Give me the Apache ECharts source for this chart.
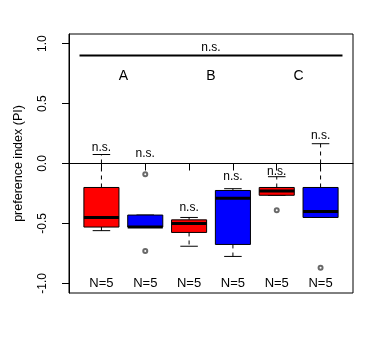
<!DOCTYPE html>
<html><head><meta charset="utf-8">
<script src="https://cdn.jsdelivr.net/npm/echarts@6/dist/echarts.min.js"></script>
<style>html,body{margin:0;padding:0;background:#fff}#c{width:379px;height:346px}</style>
</head><body><div id="c"></div>
<script>
// ---- data ----
const positions   = [1, 2, 3, 4, 5, 6];
const boxColors   = ['#FF0000', '#0000FF', '#FF0000', '#0000FF', '#FF0000', '#0000FF'];
const whiskerLow  = [-0.56, -0.53, -0.69, -0.775, -0.265, -0.45];
const q1          = [-0.53, -0.53, -0.575, -0.675, -0.265, -0.45];
const median      = [-0.45, -0.53, -0.50, -0.29, -0.23, -0.40];
const q3          = [-0.20, -0.43, -0.47, -0.225, -0.20, -0.20];
const whiskerHigh = [0.075, -0.43, -0.45, -0.21, -0.11, 0.165];
const outliers    = [[2, -0.09], [2, -0.73], [5, -0.39], [6, -0.87]];
const nsLabels    = ['n.s.', 'n.s.', 'n.s.', 'n.s.', 'n.s.', 'n.s.'];
const nsLabelY    = [0.13, 0.08, -0.365, -0.11, -0.065, 0.23];
const nLabels     = ['N=5', 'N=5', 'N=5', 'N=5', 'N=5', 'N=5'];
const nLabelY     = -1.0;
const groupLabels = ['A', 'B', 'C'];
const groupPos    = [1.5, 3.5, 5.5];
const groupLabelY = 0.73;
const topLine     = [0.5, 6.5, 0.9];   // x1, x2, y
const topLabel    = 'n.s.';
const topLabelY   = 0.97;
const yTicks      = [-1, -0.5, 0, 0.5, 1];
const yName       = 'preference index (PI)';

const FONT = "'Liberation Sans', Arial, sans-serif";

const boxData = positions.map((p, i) => [p, whiskerLow[i], q1[i], median[i], q3[i], whiskerHigh[i]]);

function textSeries(points, texts, size) {
  return {
    type: 'custom',
    data: points,
    silent: true,
    z: 10,
    renderItem: function (params, api) {
      const pt = api.coord([api.value(0), api.value(1)]);
      return {
        type: 'text',
        x: pt[0], y: pt[1],
        style: {
          text: texts[params.dataIndex],
          fontSize: size,
          fontFamily: FONT,
          fill: '#000',
          align: 'center',
          verticalAlign: 'middle'
        }
      };
    }
  };
}

function segSeries(segs, width) {
  return {
    type: 'custom',
    data: segs,
    silent: true,
    z: 5,
    renderItem: function (params, api) {
      const a = api.coord([api.value(0), api.value(1)]);
      const b = api.coord([api.value(2), api.value(3)]);
      return {
        type: 'line',
        shape: { x1: a[0], y1: a[1], x2: b[0], y2: b[1] },
        style: { stroke: '#000', lineWidth: width }
      };
    }
  };
}

const chart = echarts.init(document.getElementById('c'), null, { renderer: 'canvas' });
chart.setOption({
  animation: false,
  backgroundColor: '#fff',
  grid: { left: 69, right: 26, top: 34, bottom: 53, show: true, borderColor: '#000', borderWidth: 1, backgroundColor: 'transparent' },
  xAxis: {
    type: 'value', min: 0.26, max: 6.74,
    axisLine: { show: true, lineStyle: { color: '#000' } },
    axisTick: { show: true, length: 7, customValues: positions, lineStyle: { color: '#000' } },
    axisLabel: { show: false },
    splitLine: { show: false }
  },
  yAxis: {
    type: 'value', min: -1.08, max: 1.08,
    name: yName, nameLocation: 'middle', nameRotate: 90, nameGap: 44,
    nameTextStyle: { fontSize: 12.5, fontFamily: FONT, color: '#000' },
    axisLine: { show: true, lineStyle: { color: '#000' } },
    axisTick: { show: true, length: 7, customValues: yTicks, lineStyle: { color: '#000' } },
    axisLabel: {
      customValues: yTicks, rotate: 90, margin: 20,
      fontSize: 12, fontFamily: FONT, color: '#000',
      formatter: v => v.toFixed(1)
    },
    splitLine: { show: false }
  },
  series: [
    segSeries([[0.26, 0, 6.74, 0]], 1),
    {
      type: 'custom',
      data: boxData,
      z: 6,
      renderItem: function (params, api) {
        const x = api.value(0);
        const half = api.size([0.8, 0])[0] / 2;
        const cap = half / 2;
        const c = api.coord([x, 0])[0];
        const yy = [1, 2, 3, 4, 5].map(k => api.coord([x, api.value(k)])[1]);
        const [wl, lo, md, hi, wh] = yy;
        const color = boxColors[params.dataIndex];
        return {
          type: 'group',
          children: [
            { type: 'line', shape: { x1: c, y1: hi, x2: c, y2: wh }, style: { stroke: '#000', lineWidth: 1, lineDash: [4, 4] } },
            { type: 'line', shape: { x1: c, y1: lo, x2: c, y2: wl }, style: { stroke: '#000', lineWidth: 1, lineDash: [4, 4] } },
            { type: 'line', shape: { x1: c - cap, y1: wh, x2: c + cap, y2: wh }, style: { stroke: '#000', lineWidth: 1 } },
            { type: 'line', shape: { x1: c - cap, y1: wl, x2: c + cap, y2: wl }, style: { stroke: '#000', lineWidth: 1 } },
            { type: 'rect', shape: { x: c - half, y: hi, width: 2 * half, height: lo - hi }, style: { fill: color, stroke: '#000', lineWidth: 1 } },
            { type: 'line', shape: { x1: c - half, y1: md, x2: c + half, y2: md }, style: { stroke: '#000', lineWidth: 3 } }
          ]
        };
      }
    },
    {
      type: 'scatter',
      data: outliers,
      symbol: 'emptyCircle',
      symbolSize: 4,
      itemStyle: { color: '#444', borderColor: '#444', borderWidth: 0.8 },
      z: 7
    },
    segSeries([[topLine[0], topLine[2], topLine[1], topLine[2]]], 2),
    textSeries(positions.map((p, i) => [p, nsLabelY[i]]), nsLabels, 12),
    textSeries(positions.map(p => [p, nLabelY]), nLabels, 13),
    textSeries(groupPos.map(p => [p, groupLabelY]), groupLabels, 14),
    textSeries([[(topLine[0] + topLine[1]) / 2, topLabelY]], [topLabel], 12)
  ]
});
</script></body></html>
